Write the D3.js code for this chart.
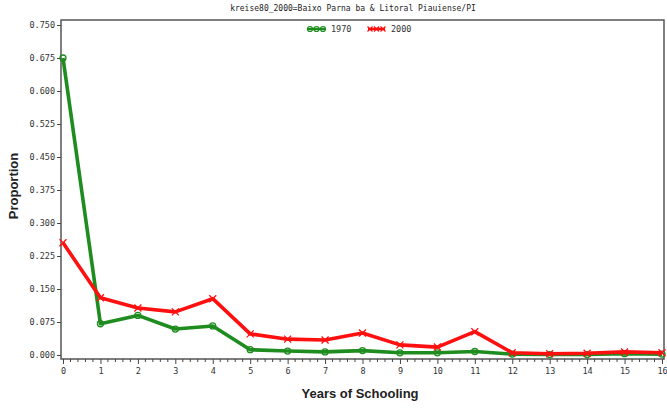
<!DOCTYPE html>
<html>
<head>
<meta charset="utf-8">
<script src="https://cdn.jsdelivr.net/npm/d3@7"></script>
<style>
  html, body { margin: 0; padding: 0; background: #fff; }
  svg { display: block; }
</style>
</head>
<body>
<script>
// Years of schooling (x categories)
const years = [0,1,2,3,4,5,6,7,8,9,10,11,12,13,14,15,16];
// Share of population by years of schooling
const share1970 = [0.675,0.071,0.090,0.059,0.066,0.012,0.009,0.007,0.010,0.005,0.005,0.008,0.002,0.001,0.001,0.003,0.002];
const share2000 = [0.255,0.130,0.107,0.098,0.128,0.048,0.036,0.034,0.050,0.023,0.018,0.053,0.005,0.003,0.004,0.007,0.005];
const yTicks = [0,0.075,0.15,0.225,0.3,0.375,0.45,0.525,0.6,0.675,0.75];
const seriesNames = ["1970","2000"];
const titleText = "kreise80_2000=Baixo Parna ba & Litoral Piauiense/PI";

const W = 667, H = 409;
const frame = {x0: 61, x1: 664, y0: 20, y1: 359};
const green = "#1e8c1e", red = "#ff1010";

const svg = d3.select("body").append("svg").attr("width", W).attr("height", H);

const x = d3.scaleLinear().domain([0, 16]).range([63, 662]);
const y = d3.scaleLinear().domain([0, 0.75]).range([355, 25]);

const tickFont = "'DejaVu Sans Mono', monospace";

// Title
svg.append("text").attr("x", 353).attr("y", 11).attr("text-anchor", "middle")
  .attr("font-family", tickFont).attr("font-size", 8).attr("fill", "#222")
  .text(titleText);

// Frame
svg.append("rect").attr("x", frame.x0).attr("y", frame.y0)
  .attr("width", frame.x1 - frame.x0).attr("height", frame.y1 - frame.y0)
  .attr("fill", "none").attr("stroke", "#555").attr("stroke-width", 1.5);

// Y axis
const yAxis = d3.axisLeft(y).tickValues(yTicks).tickFormat(d3.format(".3f")).tickSize(4).tickPadding(2);
const gy = svg.append("g").attr("transform", `translate(${frame.x0},0)`).call(yAxis);
gy.select(".domain").remove();
gy.selectAll("line").attr("stroke", "#444");
gy.selectAll("text").attr("font-family", tickFont).attr("font-size", 8.5).attr("fill", "#333");

// X axis: major ticks with labels, minor ticks between
const xAxis = d3.axisBottom(x).tickValues(years).tickFormat(d3.format("d")).tickSize(5).tickPadding(4);
const gx = svg.append("g").attr("transform", `translate(0,${frame.y1})`).call(xAxis);
gx.select(".domain").remove();
gx.selectAll("line").attr("stroke", "#444");
gx.selectAll("text").attr("font-family", tickFont).attr("font-size", 8.5).attr("fill", "#333");

const minor = [];
years.slice(0, -1).forEach(v => { for (let k = 1; k < 5; k++) minor.push(v + k / 5); });
svg.append("g").selectAll("line").data(minor).join("line")
  .attr("x1", d => x(d)).attr("x2", d => x(d))
  .attr("y1", frame.y1).attr("y2", frame.y1 + 3)
  .attr("stroke", "#444");

// Axis titles
svg.append("text").attr("x", 360).attr("y", 398).attr("text-anchor", "middle")
  .attr("font-family", "'Liberation Sans', Arial, sans-serif").attr("font-weight", "bold")
  .attr("font-size", 13).attr("fill", "#222").text("Years of Schooling");
svg.append("text").attr("transform", "translate(18,186) rotate(-90)").attr("text-anchor", "middle")
  .attr("font-family", "'Liberation Sans', Arial, sans-serif").attr("font-weight", "bold")
  .attr("font-size", 13).attr("fill", "#222").text("Proportion");

// Series lines
const line = d3.line().x((d, i) => x(years[i])).y(d => y(d));

function drawSeries(values, color, marker) {
  svg.append("path").datum(values).attr("d", line)
    .attr("fill", "none").attr("stroke", color).attr("stroke-width", 3.6)
    .attr("stroke-linejoin", "round");
  const g = svg.append("g");
  values.forEach((v, i) => {
    const cx = x(years[i]), cy = y(v);
    if (marker === "circle") {
      g.append("circle").attr("cx", cx).attr("cy", cy).attr("r", 3)
        .attr("fill", "none").attr("stroke", color).attr("stroke-width", 1.3);
    } else {
      g.append("path").attr("d", `M${cx-3.5},${cy-3.5}L${cx+3.5},${cy+3.5}M${cx-3.5},${cy+3.5}L${cx+3.5},${cy-3.5}`)
        .attr("stroke", color).attr("stroke-width", 1.3);
    }
  });
}
drawSeries(share1970, green, "circle");
drawSeries(share2000, red, "x");

// Legend
const legend = [
  {name: seriesNames[0], color: green, marker: "circle", x0: 308},
  {name: seriesNames[1], color: red, marker: "x", x0: 368}
];
legend.forEach(l => {
  const ly = 29;
  svg.append("line").attr("x1", l.x0).attr("x2", l.x0 + 17).attr("y1", ly).attr("y2", ly)
    .attr("stroke", l.color).attr("stroke-width", 2.5);
  [l.x0 + 2, l.x0 + 8.5, l.x0 + 15].forEach(cx => {
    if (l.marker === "circle") {
      svg.append("circle").attr("cx", cx).attr("cy", ly).attr("r", 2.5)
        .attr("fill", "none").attr("stroke", l.color).attr("stroke-width", 1.2);
    } else {
      svg.append("path").attr("d", `M${cx-2.5},${ly-2.5}L${cx+2.5},${ly+2.5}M${cx-2.5},${ly+2.5}L${cx+2.5},${ly-2.5}`)
        .attr("stroke", l.color).attr("stroke-width", 1.2);
    }
  });
  svg.append("text").attr("x", l.x0 + 23).attr("y", ly + 3)
    .attr("font-family", tickFont).attr("font-size", 8.5).attr("fill", "#333").text(l.name);
});
</script>
</body>
</html>
